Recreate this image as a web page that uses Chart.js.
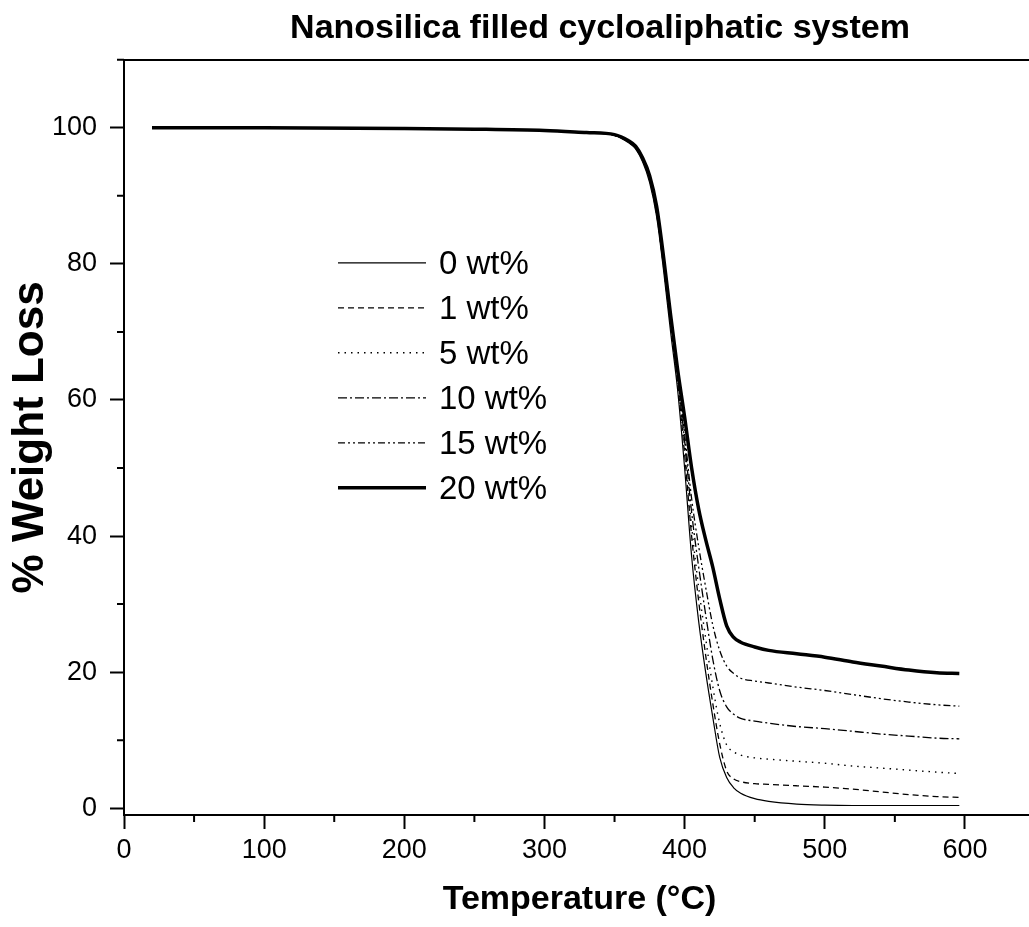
<!DOCTYPE html>
<html>
<head>
<meta charset="utf-8">
<script src="https://cdn.jsdelivr.net/npm/chart.js@4.4.0/dist/chart.umd.min.js"></script>
<style>
    html, body { margin: 0; padding: 0; background: #fff; overflow: hidden; }
    #wrap { width: 1200px; height: 927px; }
</style>
</head>
<body>
<div id="wrap"><canvas id="tgaChart"></canvas></div>
<script>
const temps = [20, 100, 200, 250, 300, 330, 350, 360, 365, 370, 375, 380, 385, 390, 395, 400, 405, 410, 415, 420, 425, 430, 435, 440, 450, 460, 480, 500, 520, 540, 560, 580, 596];

const wt0 = [100, 100, 99.9, 99.8, 99.6, 99.3, 98.9, 97.8, 96.9, 95.0, 92.0, 87.0, 79.0, 70.0, 61.5, 50.0, 37.0, 27.5, 20.0, 13.5, 7.5, 4.5, 3.0, 2.2, 1.4, 1.0, 0.6, 0.45, 0.4, 0.4, 0.4, 0.4, 0.4];
const wt1 = [100, 100, 99.9, 99.8, 99.6, 99.3, 98.9, 97.9, 97.0, 95.2, 92.3, 87.3, 79.5, 71.0, 62.5, 52.0, 40.0, 30.5, 22.5, 15.5, 9.5, 5.5, 4.3, 3.9, 3.6, 3.5, 3.3, 3.1, 2.8, 2.4, 2.0, 1.7, 1.6];
const wt5 = [100, 100, 99.9, 99.8, 99.6, 99.3, 98.9, 97.9, 97.0, 95.3, 92.5, 87.6, 80.0, 71.5, 63.0, 53.0, 41.5, 32.5, 25.0, 18.0, 12.5, 9.3, 8.3, 7.8, 7.4, 7.2, 6.9, 6.6, 6.2, 5.9, 5.6, 5.3, 5.1];
const wt10 = [100, 100, 99.9, 99.8, 99.6, 99.3, 98.9, 98.0, 97.1, 95.4, 92.7, 88.0, 80.5, 72.0, 63.5, 54.0, 43.5, 35.5, 28.5, 22.0, 17.3, 14.9, 13.8, 13.2, 12.8, 12.5, 12.0, 11.7, 11.3, 10.9, 10.6, 10.3, 10.2];
const wt15 = [100, 100, 99.9, 99.8, 99.6, 99.3, 98.9, 98.0, 97.2, 95.5, 92.8, 88.2, 80.5, 72.0, 64.0, 55.0, 45.5, 38.5, 32.5, 27.0, 23.2, 20.9, 19.8, 19.1, 18.7, 18.4, 17.8, 17.3, 16.7, 16.1, 15.6, 15.2, 15.0];
const wt20 = [100, 100, 99.9, 99.8, 99.6, 99.3, 99.0, 98.1, 97.3, 95.6, 93.0, 88.5, 81.0, 72.5, 64.5, 57.5, 50.0, 44.0, 39.5, 35.5, 30.8, 26.8, 25.1, 24.4, 23.7, 23.2, 22.7, 22.2, 21.5, 20.9, 20.3, 19.9, 19.8];

const seriesLabels = ['0 wt%', '1 wt%', '5 wt%', '10 wt%', '15 wt%', '20 wt%'];
const xMajor = [0, 100, 200, 300, 400, 500, 600];
const xMinor = [50, 150, 250, 350, 450, 550, 650];
const yMajor = [0, 20, 40, 60, 80, 100];
const yMinor = [10, 30, 50, 70, 90, 110];

const fontFamily = '"Liberation Sans", Arial, sans-serif';

function points(values) {
    return temps.map((t, i) => ({ x: t, y: values[i] }));
}

function lineSet(label, values, width, dash) {
    return {
        label: label,
        data: points(values),
        xAxisID: 'x',
        yAxisID: 'y',
        borderColor: '#000',
        borderWidth: width,
        borderDash: dash,
        pointRadius: 0,
        fill: false,
        cubicInterpolationMode: 'monotone',
    };
}

// short ticks at the half steps
const minorTicks = {
    id: 'minorTicks',
    afterDraw(chart) {
        const { ctx, chartArea, scales } = chart;
        ctx.save();
        ctx.strokeStyle = '#000';
        ctx.lineWidth = 2;
        ctx.beginPath();
        xMinor.forEach((v) => {
            const px = scales.x.getPixelForValue(v);
            ctx.moveTo(px, chartArea.bottom);
            ctx.lineTo(px, chartArea.bottom + 7);
        });
        yMinor.forEach((v) => {
            const py = scales.y.getPixelForValue(v);
            ctx.moveTo(chartArea.left, py);
            ctx.lineTo(chartArea.left - 7, py);
        });
        ctx.stroke();
        ctx.restore();
    },
};

// legend sits inside the plot, left of the drop
const insideLegend = {
    id: 'insideLegend',
    afterDraw(chart) {
        const { ctx, chartArea } = chart;
        const left = chartArea.left + 214;
        const top = chartArea.top + 203;
        const rowH = 45;
        ctx.save();
        ctx.font = '33px ' + fontFamily;
        ctx.textBaseline = 'middle';
        ctx.fillStyle = '#000';
        chart.data.datasets.forEach((ds, i) => {
            const yy = top + i * rowH;
            ctx.beginPath();
            ctx.setLineDash(ds.borderDash || []);
            ctx.lineWidth = ds.borderWidth;
            ctx.strokeStyle = ds.borderColor;
            ctx.moveTo(left, yy);
            ctx.lineTo(left + 88, yy);
            ctx.stroke();
            ctx.setLineDash([]);
            ctx.fillText(ds.label, left + 101, yy + 2);
        });
        ctx.restore();
    },
};

const tgaCtx = document.getElementById('tgaChart');

new Chart(tgaCtx, {
    type: 'line',
    data: {
        datasets: [
            lineSet(seriesLabels[0], wt0, 1.2, []),
            lineSet(seriesLabels[1], wt1, 1.3, [6, 4]),
            lineSet(seriesLabels[2], wt5, 1.4, [1.5, 5]),
            lineSet(seriesLabels[3], wt10, 1.3, [9, 3, 2, 3]),
            lineSet(seriesLabels[4], wt15, 1.3, [7, 3, 2, 3, 2, 3]),
            lineSet(seriesLabels[5], wt20, 3.5, []),
        ],
    },
    options: {
        responsive: true,
        maintainAspectRatio: false,
        animation: false,
        plugins: {
            legend: { display: false },
            tooltip: { enabled: false },
            title: {
                display: true,
                text: 'Nanosilica filled cycloaliphatic system',
                color: '#000',
                font: { family: fontFamily, size: 34, weight: 'bold' },
                padding: { top: 8, bottom: 11 },
            },
        },
        scales: {
            x: {
                type: 'linear',
                position: 'bottom',
                min: 0,
                max: 650,
                afterBuildTicks: function (scale) {
                    scale.ticks = xMajor.map((v) => ({ value: v }));
                },
                afterFit: function (scale) {
                    scale.height = 112;
                },
                grid: {
                    drawOnChartArea: false,
                    tickLength: 14,
                    tickWidth: 2,
                    tickColor: '#000',
                },
                border: { color: '#000', width: 2 },
                ticks: {
                    color: '#000',
                    font: { family: fontFamily, size: 27 },
                    padding: 5,
                    maxRotation: 0,
                    autoSkip: false,
                },
                title: {
                    display: true,
                    text: 'Temperature (°C)',
                    color: '#000',
                    font: { family: fontFamily, size: 34, weight: 'bold' },
                    padding: { top: 0, bottom: 7 },
                },
            },
            xTop: {
                type: 'linear',
                axis: 'x',
                position: 'top',
                min: 0,
                max: 650,
                grid: { display: false, drawTicks: false },
                ticks: { display: false },
                border: { display: true, color: '#000', width: 2 },
            },
            y: {
                min: -1,
                max: 110,
                afterBuildTicks: function (scale) {
                    scale.ticks = yMajor.map((v) => ({ value: v }));
                },
                afterFit: function (scale) {
                    scale.width = 124;
                },
                grid: {
                    drawOnChartArea: false,
                    tickLength: 14,
                    tickWidth: 2,
                    tickColor: '#000',
                },
                border: { color: '#000', width: 2 },
                ticks: {
                    color: '#000',
                    font: { family: fontFamily, size: 27 },
                    padding: 13,
                },
                title: {
                    display: true,
                    text: '% Weight Loss',
                    color: '#000',
                    font: { family: fontFamily, size: 44, weight: 'bold' },
                    padding: { top: 4, bottom: 0 },
                },
            },
            // empty strip on the right, past the window edge, so the plot runs off the page
            yRight: {
                axis: 'y',
                position: 'right',
                min: -1,
                max: 110,
                afterFit: function (scale) {
                    scale.width = 165;
                },
                grid: { display: false, drawTicks: false },
                ticks: { display: false },
                border: { display: false },
            },
        },
    },
    plugins: [minorTicks, insideLegend],
});
</script>
</body>
</html>
